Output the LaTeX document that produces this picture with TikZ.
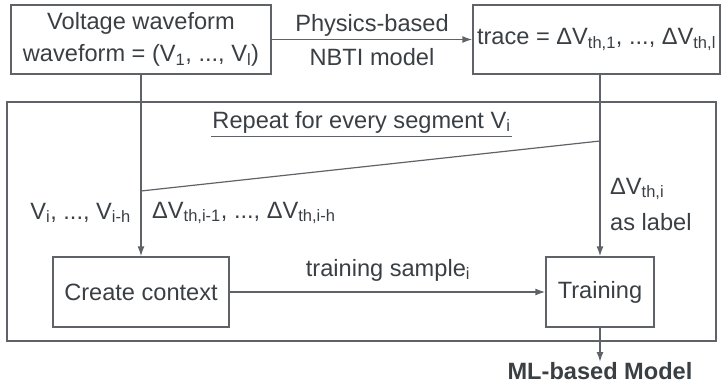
\documentclass[tikz,border=0pt]{standalone}
\usepackage{fontspec}
\setmainfont{Liberation Sans}
\usetikzlibrary{arrows.meta,calc}
\definecolor{ink}{HTML}{3A3F44}
\definecolor{rule}{HTML}{5F6367}
\newcommand{\sbs}[1]{\textsubscript{#1}}
\begin{document}
\begin{tikzpicture}[x=1pt,y=-1pt,
  font=\fontsize{23.6}{32}\selectfont,
  every node/.style={text=ink},
  box/.style={draw=rule,line width=1.4pt,inner sep=0pt,align=center},
  conn/.style={draw=rule,line width=1.4pt},
  arr/.style={conn,-{Latex[length=10pt,width=7pt]}},
  lbl/.style={inner sep=0pt,align=left}]
\useasboundingbox (0,0) rectangle (724,389);

% outer loop frame
\node[box,minimum width=709pt,minimum height=239pt] (loop) at (361.5,221.5) {};

% top row
\node[box,minimum width=260pt,minimum height=69pt] (wave) at (141,39.5)
  {Voltage waveform\\waveform = (V\sbs{1}, ..., V\sbs{l})};
\node[box,minimum width=247pt,minimum height=69pt] (trace) at (596.5,39.5)
  {trace = ΔV\sbs{th,1}, ..., ΔV\sbs{th,l}};

% bottom row
\node[box,minimum width=176pt,minimum height=70pt] (ctx) at (141,292) {Create context};
\node[box,minimum width=108pt,minimum height=70pt] (train) at (600,292) {Training};

% result
\node[anchor=north,inner sep=0pt,font=\fontsize{23.6}{32}\selectfont\bfseries] (ml) at (600,362) {ML-based Model};

% loop caption with underline
\node[inner sep=0pt] (rep) at (361.5,122) {Repeat for every segment V\sbs{i}};
\draw[conn,line width=1.2pt] ($(rep.south west)+(-1,3)$) -- ($(rep.south east)+(1,3)$);

% connectors
\draw[arr] (wave.east) -- (trace.west);
\node[lbl] (pb) at (372,25) {Physics-based};
\node[lbl] (nbti) at (372,57) {NBTI model};

\draw[arr] (wave.south) -- (ctx.north);
\draw[arr] (trace.south -| train.north) -- (train.north);

\coordinate (dr) at (600,141);
\coordinate (dl) at (141,191);
\draw[conn,line width=1.2pt] (dr) -- (dl);

\node[lbl,anchor=east] (vin) at (131,213) {V\sbs{i}, ..., V\sbs{i-h}};
\node[lbl,anchor=west] (dvin) at (152,213) {ΔV\sbs{th,i-1}, ..., ΔV\sbs{th,i-h}};

\node[lbl,anchor=west] (dvi) at (610,189) {ΔV\sbs{th,i}};
\node[lbl,anchor=west] (asl) at (610,222) {as label};

\draw[arr] (ctx.east) -- (train.west);
\node[lbl] (ts) at (388,270) {training sample\sbs{i}};

\draw[arr] (train.south) -- (ml.north);
\end{tikzpicture}
\end{document}
